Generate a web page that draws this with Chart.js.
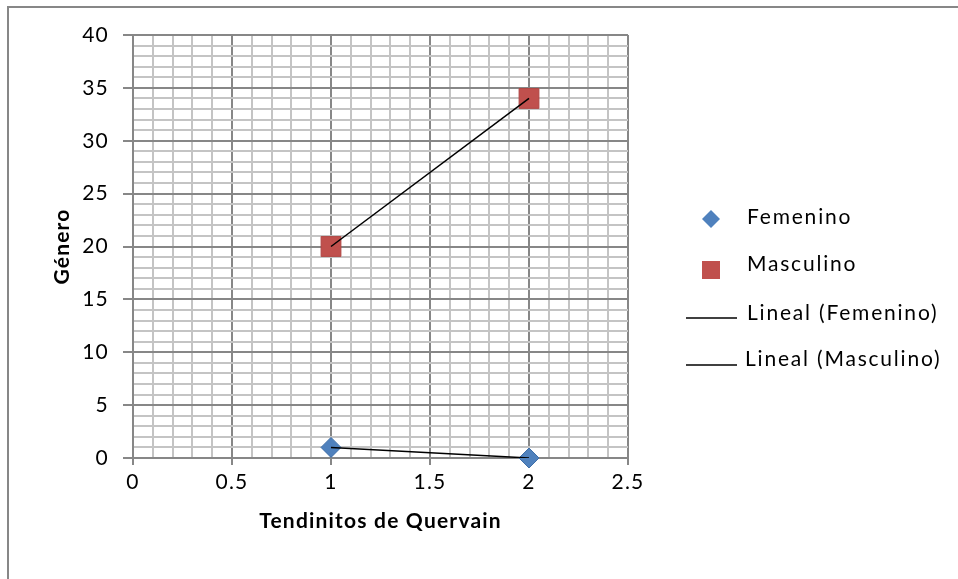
<!DOCTYPE html>
<html>
<head>
<meta charset="utf-8">
<script src="https://cdn.jsdelivr.net/npm/chart.js@4.4.0/dist/chart.umd.min.js"></script>
<style>
  html, body { margin: 0; padding: 0; background: #fff; }
  #wrap { position: relative; width: 958px; height: 579px; }
  #frame { position: absolute; left: 7px; top: 6px; width: 960px; height: 600px;
           border-left: 2px solid #878787; border-top: 2px solid #878787;
           box-sizing: border-box; pointer-events: none; }
</style>
</head>
<body>
<div id="wrap">
  <canvas id="chart" width="958" height="579"></canvas>
  <div id="frame"></div>
</div>
<script>
// data
const xValues = [1, 2];                 // Tendinitos de Quervain
const femenino = [1, 0];
const masculino = [20, 34];
const seriesNames = ['Femenino', 'Masculino', 'Lineal (Femenino)', 'Lineal (Masculino)'];
const xTickLabels = ['0', '0.5', '1', '1.5', '2', '2.5'];
const yTickLabels = ['0', '5', '10', '15', '20', '25', '30', '35', '40'];

const FONT = 'Lato';
const MAJOR = '#878787';
const MINOR = '#c4c4c4';
const BLUE = '#4f81bd';
const RED = '#c0504d';

const pts = (ys) => xValues.map((x, i) => ({ x: x, y: ys[i] }));
const isLabel = (list, v) => list.some(t => Math.abs(Number(t) - v) < 1e-6);

// Calibri-ish spacing for all canvas text
const spacingPlugin = {
  id: 'spacing',
  beforeDraw(chart) { chart.ctx.letterSpacing = '1.2px'; }
};

// Excel-like legend drawn at the right
const legendPlugin = {
  id: 'sideLegend',
  afterDraw(chart) {
    const ctx = chart.ctx;
    const ds = chart.data.datasets;
    ctx.save();
    ctx.letterSpacing = '1.8px';
    ctx.font = '21px ' + FONT;
    ctx.textBaseline = 'middle';
    ctx.textAlign = 'left';
    // diamond
    ctx.fillStyle = BLUE;
    ctx.beginPath();
    ctx.moveTo(711, 210); ctx.lineTo(720, 219); ctx.lineTo(711, 228); ctx.lineTo(702, 219);
    ctx.closePath(); ctx.fill();
    // square
    ctx.fillStyle = RED;
    ctx.fillRect(702, 261, 18, 18);
    // trend line samples
    ctx.strokeStyle = '#000';
    ctx.lineWidth = 1.5;
    ctx.beginPath(); ctx.moveTo(686, 318); ctx.lineTo(737, 318); ctx.stroke();
    ctx.beginPath(); ctx.moveTo(686, 365); ctx.lineTo(737, 365); ctx.stroke();
    ctx.fillStyle = '#000';
    ctx.fillText(ds[0].label, 747, 217);
    ctx.fillText(ds[1].label, 747, 264);
    ctx.fillText(ds[2].label, 747, 313);
    ctx.fillText(ds[3].label, 745, 359);
    ctx.restore();
  }
};

new Chart(document.getElementById('chart'), {
  type: 'scatter',
  data: {
    datasets: [
      { label: seriesNames[0], data: pts(femenino), pointStyle: 'rectRot', pointRadius: 10,
        backgroundColor: BLUE, borderColor: '#3f6fa8', borderWidth: 1, order: 1, clip: false },
      { label: seriesNames[1], data: pts(masculino), pointStyle: 'rect', pointRadius: 14,
        backgroundColor: RED, borderColor: '#b04643', borderWidth: 1, order: 1, clip: false },
      { label: seriesNames[2], data: pts(femenino), showLine: true, pointRadius: 0,
        borderColor: '#000', borderWidth: 1.5, order: 0 },
      { label: seriesNames[3], data: pts(masculino), showLine: true, pointRadius: 0,
        borderColor: '#000', borderWidth: 1.5, order: 0 }
    ]
  },
  options: {
    responsive: false,
    animation: false,
    layout: { padding: { left: 40, top: 35, right: 330, bottom: 40 } },
    plugins: { legend: { display: false }, tooltip: { enabled: false } },
    scales: {
      x: {
        type: 'linear', min: 0, max: 2.5,
        afterBuildTicks(scale) {
          scale.ticks = Array.from({ length: 26 }, (_, i) => ({ value: i / 10 }));
        },
        afterFit(scale) { scale.height = 81; },
        ticks: {
          autoSkip: false, maxRotation: 0, padding: 5, color: '#000',
          font: { family: FONT, size: 21 },
          callback: (v) => {
            const t = xTickLabels.find(s => Math.abs(Number(s) - v) < 1e-6);
            return t === undefined ? '' : t;
          }
        },
        grid: {
          lineWidth: 2, tickLength: 7,
          color: (c) => isLabel(xTickLabels, c.tick.value) ? MAJOR : MINOR,
          tickColor: (c) => isLabel(xTickLabels, c.tick.value) ? MAJOR : 'rgba(0,0,0,0)'
        },
        border: { color: MAJOR, width: 2 },
        title: { display: true, text: 'Tendinitos de Quervain', color: '#000',
                 font: { family: FONT, size: 21, weight: 'bold' }, padding: { bottom: 5 } }
      },
      y: {
        type: 'linear', min: 0, max: 40,
        afterBuildTicks(scale) {
          scale.ticks = Array.from({ length: 41 }, (_, i) => ({ value: i }));
        },
        afterFit(scale) { scale.width = 93; },
        ticks: {
          autoSkip: false, padding: 14, color: '#000',
          font: { family: FONT, size: 21 },
          callback: (v) => {
            const t = yTickLabels.find(s => Number(s) === v);
            return t === undefined ? '' : t;
          }
        },
        grid: {
          lineWidth: 2, tickLength: 10,
          color: (c) => isLabel(yTickLabels, c.tick.value) ? MAJOR : MINOR,
          tickColor: (c) => isLabel(yTickLabels, c.tick.value) ? MAJOR : 'rgba(0,0,0,0)'
        },
        border: { color: MAJOR, width: 2 },
        title: { display: true, text: 'Género', color: '#000',
                 font: { family: FONT, size: 21, weight: 'bold' }, padding: { top: 10 } }
      }
    }
  },
  plugins: [spacingPlugin, legendPlugin]
});
</script>
</body>
</html>
